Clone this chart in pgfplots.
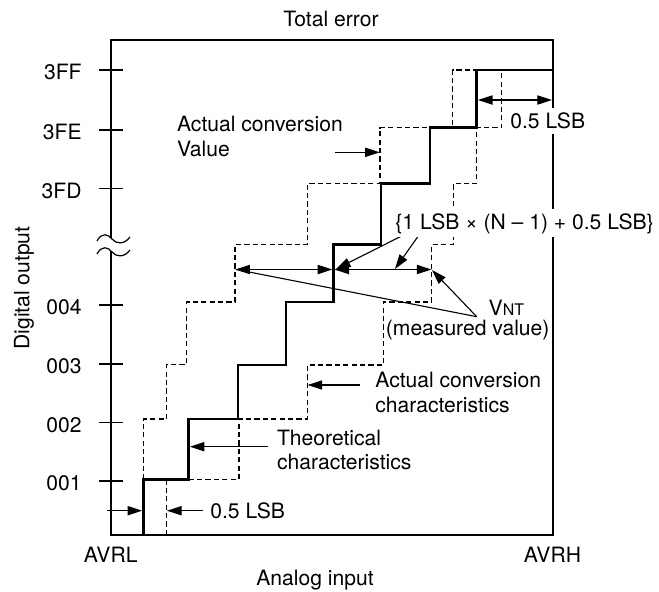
\documentclass[border=0pt]{standalone}
\usepackage{fontspec}
\setmainfont{TeX Gyre Heros}
\usepackage{pgfplots}
\pgfplotsset{compat=1.18}
\usetikzlibrary{arrows.meta}
\newcommand{\fs}{\fontsize{10.55}{12.6}\selectfont}
\begin{document}
\begin{tikzpicture}[font=\fs,
  lbl/.style={inner sep=0pt, anchor=base west},
  tip/.style={line width=0.55pt, black, -{Triangle[length=7.3pt,width=4.6pt]}},
  dtip/.style={line width=0.55pt, black, {Triangle[length=7.3pt,width=4.6pt]}-{Triangle[length=7.3pt,width=4.6pt]}},
  thinline/.style={line width=0.55pt, black},
  dashline/.style={line width=0.6pt, black, dash pattern=on 2.6pt off 1.6pt},
  theo/.style={line width=1.25pt, black, line join=miter}]
\begin{axis}[
  x=0.5pt, y=0.5pt, y dir=reverse,
  xmin=111, xmax=553, ymin=40, ymax=535,
  clip=false,
  axis line style={line width=1.05pt},
  xtick=\empty,
  ytick={70,130,188.7,305,364,422.7,481},
  yticklabels={3FF,3FE,3FD,004,003,002,001},
  ytick pos=left,
  tick align=center,
  major tick length=12pt,
  ytick style={line width=0.55pt, black},
  yticklabel style={font=\fs, inner sep=0pt, xshift=-8.5pt, yshift=-1pt},
]
% bounding box of the whole figure
\path (axis cs:0,0) rectangle (axis cs:659,591);

% theoretical characteristics (solid)
\addplot[theo] coordinates {(143.3,535) (143.3,479.3) (188.7,479.3) (188.7,419) (238,419) (238,365) (286,365) (286,302) (333.3,302) (333.3,244.5) (381,244.5) (381,183.3) (430,183.3) (430,127.7) (476.7,127.7) (476.7,70) (553,70)};

% actual conversion characteristics (dashed, left bound)
\addplot[dashline] coordinates {(143.3,479.3) (143.3,419) (166.7,419) (166.7,364.3) (186.7,364.3) (186.7,302) (235,302) (235,244.5) (307.3,244.5) (307.3,183.3) (380,183.3) (380,127.7) (452.7,127.7) (452.7,70) (476.7,70)};
% actual conversion characteristics (dashed, right bound)
\addplot[dashline] coordinates {(188.7,479.3) (239,479.3) (239,419) (307.3,419) (307.3,365) (383.3,365) (383.3,302) (431.7,302) (431.7,244.5) (453.3,244.5) (453.3,183.3) (476.7,183.3) (476.7,127.7) (501.7,127.7) (501.7,70)};
\addplot[dashline] coordinates {(166.7,535) (166.7,479.3)};

% arrows
\addplot[tip] coordinates {(106.7,510.7) (142.2,510.7)};
\addplot[tip] coordinates {(203.3,510.7) (167,510.7)};
\addplot[tip] coordinates {(268.3,446.7) (189.8,446.7)};
\addplot[tip] coordinates {(360,385) (307.6,385)};
\addplot[tip] coordinates {(335,152.3) (379.7,152.3)};
\addplot[dtip] coordinates {(477.9,100) (552,100)};
\addplot[dtip] coordinates {(235.3,269.5) (332.3,269.5)};
\addplot[dtip] coordinates {(334.4,269.5) (431.4,269.5)};
\addplot[tip] coordinates {(405,234.3) (336,269)};
\addplot[tip] coordinates {(420,233.5) (395,269)};
\addplot[thinline] coordinates {(236.5,269.5) (476.7,316.7)};
\addplot[tip] coordinates {(476.7,316.7) (432,270)};

% axis break marks
\fill[white] (axis cs:97,241) .. controls (axis cs:102,232) and (axis cs:108,234) .. (axis cs:112,239) .. controls (axis cs:116,244) and (axis cs:124,245) .. (axis cs:130,237)
  -- (axis cs:130,250) .. controls (axis cs:124,258) and (axis cs:116,257) .. (axis cs:112,252) .. controls (axis cs:108,247) and (axis cs:102,245) .. (axis cs:97,254) -- cycle;
\draw[line width=0.6pt] (axis cs:97,241) .. controls (axis cs:102,232) and (axis cs:108,234) .. (axis cs:112,239) .. controls (axis cs:116,244) and (axis cs:124,245) .. (axis cs:130,237);
\draw[line width=0.6pt] (axis cs:97,254) .. controls (axis cs:102,245) and (axis cs:108,247) .. (axis cs:112,252) .. controls (axis cs:116,257) and (axis cs:124,258) .. (axis cs:130,250);

% texts
\node[inner sep=0pt, anchor=base] at (axis cs:331,26.7) {Total error};
\node[inner sep=0pt, rotate=90] at (axis cs:24,288) {Digital output};
\node[inner sep=0pt, anchor=base] at (axis cs:110.7,562) {AVRL};
\node[inner sep=0pt, anchor=base] at (axis cs:552.5,562) {AVRH};
\node[inner sep=0pt, anchor=base] at (axis cs:315,585) {Analog input};
\node[lbl] at (axis cs:176.7,131.7) {Actual conversion};
\node[lbl] at (axis cs:176.7,156.7) {Value};
\node[lbl, fill=white, inner xsep=1.5pt, inner ysep=2.5pt] at (axis cs:507,128.3) {0.5 LSB};
\node[lbl, fill=white, inner xsep=1pt, inner ysep=2pt] at (axis cs:393,229) {\{1 LSB × (N – 1) + 0.5 LSB\}};
\node[lbl] at (axis cs:488.3,315) {V{\fontsize{8}{9}\selectfont NT}};
\node[lbl] at (axis cs:385.5,335) {(measured value)};
\node[lbl] at (axis cs:375,387.3) {Actual conversion};
\node[lbl] at (axis cs:375,412.7) {characteristics};
\node[lbl] at (axis cs:276.7,445) {Theoretical};
\node[lbl] at (axis cs:276.7,469.3) {characteristics};
\node[lbl] at (axis cs:210,518.3) {0.5 LSB};
\end{axis}
\end{tikzpicture}
\end{document}
